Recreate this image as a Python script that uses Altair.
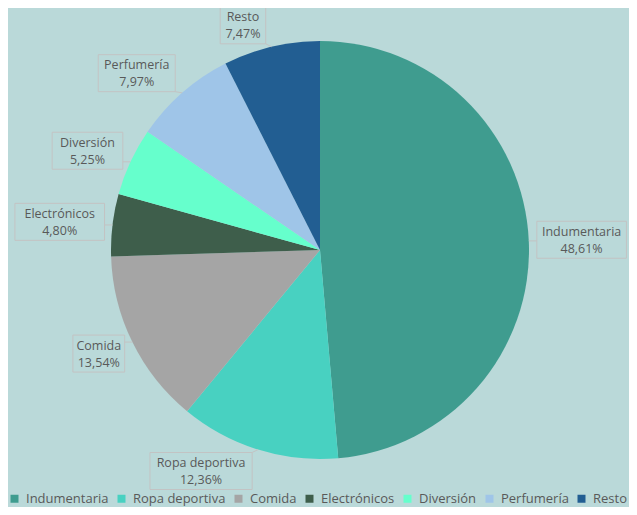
import altair as alt
import numpy as np
import pandas as pd

# ---- data ----
categories = ["Indumentaria", "Ropa deportiva", "Comida", "Electrónicos",
              "Diversión", "Perfumería", "Resto"]
shares = [48.61, 12.36, 13.54, 4.80, 5.25, 7.97, 7.47]
share_labels = ["48,61%", "12,36%", "13,54%", "4,80%", "5,25%", "7,97%", "7,47%"]
colors = ["#3F9C8F", "#48D1C1", "#A5A5A5", "#3E5E4B", "#66FFCC", "#9FC5E8", "#225E92"]

# ---- layout ----
W, H = 621, 499
CX, CY, R = 312, 242, 209
BG = "#BAD9D9"
TXT = "#595959"
FONT = "Open Sans"

df = pd.DataFrame({"cat": categories, "share": shares, "label": share_labels,
                   "order": list(range(len(categories)))})

# label boxes placed from each slice's mid angle
total = df["share"].sum()
mid = (df["share"].cumsum() - df["share"] / 2) / total * 2 * np.pi
s, c = np.sin(mid), np.cos(mid)
ax = CX + (R + 3) * s
ay = CY - (R + 3) * c
bw = np.maximum(df["cat"].str.len(), df["label"].str.len()) * 6.3 + 14
bh = 37
bx = ax + np.sign(s) * (bw / 2 + 5)
by = ay + bh / 2 * np.clip(-1.25 * c, -1, 1)
df["x1"] = bx - bw / 2
df["x2"] = bx + bw / 2
df["y1"] = by - bh / 2
df["y2"] = by + bh / 2
df["bx"] = bx
df["ty1"] = by - 8
df["ty2"] = by + 9
ex = CX + R * s
ey = CY - R * c
df["ex"] = ex
df["ey"] = ey
df["lx"] = np.clip(ex, df["x1"], df["x2"])
df["ly"] = np.clip(ey, df["y1"], df["y2"])

xs = alt.Scale(domain=[0, W])
ys = alt.Scale(domain=[0, H], reverse=True)

base = alt.Chart(df)

pie = base.mark_arc(radius=R).encode(
    theta=alt.Theta("share:Q", stack=True),
    order=alt.Order("order:Q"),
    color=alt.Color(
        "cat:N",
        scale=alt.Scale(domain=categories, range=colors),
        legend=alt.Legend(
            orient="none", legendX=0, legendY=484, direction="horizontal",
            title=None, symbolType="square", symbolSize=64, symbolStrokeWidth=0,
            labelFontSize=13, labelFont=FONT, labelColor=TXT, padding=0,
            columnPadding=6, labelOffset=5, columns=7,
        ),
    ),
    x=alt.value(CX),
    y=alt.value(CY),
)

boxes = base.mark_rect(fillOpacity=0, stroke="#C3C3C3", strokeWidth=1).encode(
    x=alt.X("x1:Q", scale=xs, axis=None),
    x2="x2:Q",
    y=alt.Y("y1:Q", scale=ys, axis=None),
    y2="y2:Q",
)

leaders = base.mark_rule(stroke="#C3C3C3", strokeWidth=1).encode(
    x=alt.X("ex:Q", scale=xs, axis=None),
    x2="lx:Q",
    y=alt.Y("ey:Q", scale=ys, axis=None),
    y2="ly:Q",
)

names = base.mark_text(font=FONT, fontSize=12.5, color=TXT).encode(
    x=alt.X("bx:Q", scale=xs, axis=None),
    y=alt.Y("ty1:Q", scale=ys, axis=None),
    text="cat:N",
)

pcts = base.mark_text(font=FONT, fontSize=12.5, color=TXT).encode(
    x=alt.X("bx:Q", scale=xs, axis=None),
    y=alt.Y("ty2:Q", scale=ys, axis=None),
    text="label:N",
)

chart = alt.layer(pie, leaders, boxes, names, pcts).properties(
    width=W, height=H, padding=0, background=BG,
    autosize=alt.AutoSizeParams(type="none"),
).configure_view(stroke=None)

chart.save("out.html", embed_options={"renderer": "svg", "actions": False})
